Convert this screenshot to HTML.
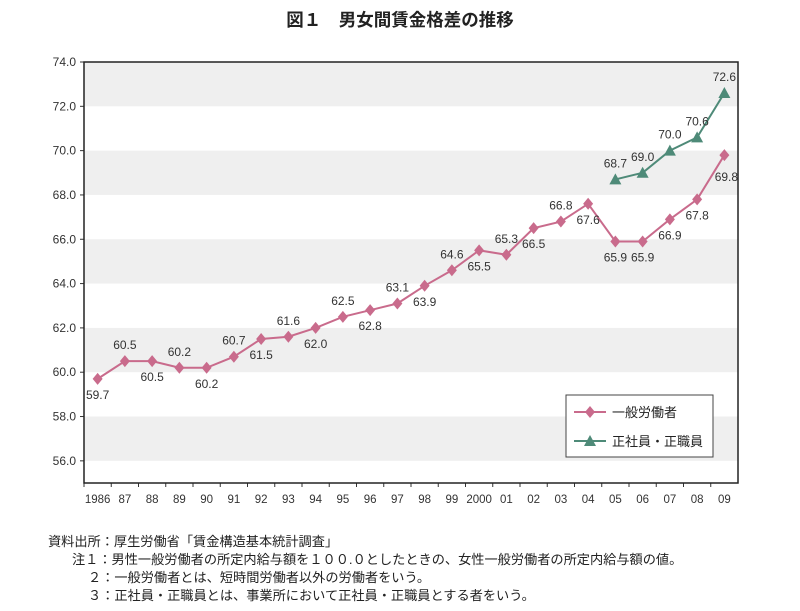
<!DOCTYPE html>
<html><head><meta charset="utf-8"><style>
body{margin:0;background:#fff;width:800px;height:611px;overflow:hidden;font-family:"Liberation Sans","Noto Sans CJK JP",sans-serif}
.note{position:absolute;font-size:13.2px;color:#222;white-space:nowrap}
</style></head><body>
<div style="position:absolute;left:0;width:800px;top:7px;text-align:center;font-size:17.5px;font-weight:bold;color:#222">図１　男女間賃金格差の推移</div>
<svg id="c" width="800" height="611" style="position:absolute;left:0;top:0"></svg>
<div class="note" style="left:48px;top:531px">資料出所：厚生労働省「賃金構造基本統計調査」</div>
<div class="note" style="left:72px;top:549px">注１：男性一般労働者の所定内給与額を１００.０としたときの、女性一般労働者の所定内給与額の値。</div>
<div class="note" style="left:88px;top:567px">２：一般労働者とは、短時間労働者以外の労働者をいう。</div>
<div class="note" style="left:88px;top:585px">３：正社員・正職員とは、事業所において正社員・正職員とする者をいう。</div>
<script>
const categories=["1986","87","88","89","90","91","92","93","94","95","96","97","98","99","2000","01","02","03","04","05","06","07","08","09"];
const generalValues=[59.7,60.5,60.5,60.2,60.2,60.7,61.5,61.6,62.0,62.5,62.8,63.1,63.9,64.6,65.5,65.3,66.5,66.8,67.6,65.9,65.9,66.9,67.8,69.8];
const generalLabelPos=["b","a","b","a","b","a","b","a","b","a","b","a","b","a","b","a","b","a","b","b","b","b","b","r"];
const regularStart=19;
const regularValues=[68.7,69.0,70.0,70.6,72.6];
const yTicks=[56,58,60,62,64,66,68,70,72,74];
const svg=document.getElementById('c');const NS='http://www.w3.org/2000/svg';
const L=84,R=738,T=62,yMin=55,yMax=74,B=483;
const step=(R-L)/categories.length;
const x=i=>L+step*(i+0.5);
const y=v=>B-(v-yMin)/(yMax-yMin)*(B-T);
function el(t,a,txt){const e=document.createElementNS(NS,t);for(const k in a)e.setAttribute(k,a[k]);if(txt!=null)e.textContent=txt;svg.appendChild(e);return e;}
for(let v=56;v<74;v+=4){const r=el('rect',{x:L,y:y(v+2),width:R-L,height:y(v)-y(v+2),fill:'#efefef'});

}
yTicks.forEach(v=>{const l=el('line',{x1:L-4,x2:L,y1:y(v),y2:y(v),stroke:'#333'});


const t=el('text',{x:L-8,y:y(v)+4,'text-anchor':'end','font-size':12,fill:'#333'},v.toFixed(1));

});
categories.forEach((c,i)=>{const l=el('line',{x1:L+step*i,x2:L+step*i,y1:B,y2:B+4,stroke:'#333'});


const t=el('text',{x:x(i),y:B+20,'text-anchor':'middle','font-size':11.5,fill:'#333'},c);

});
const f=el('rect',{x:L,y:T,width:R-L,height:B-T,fill:'none',stroke:'#222','stroke-width':1.5});


const pc='#c96b8c',gc='#4e8a78';
const gl=el('polyline',{points:generalValues.map((v,i)=>x(i)+','+y(v)).join(' '),fill:'none',stroke:pc,'stroke-width':2});


generalValues.forEach((v,i)=>{const cx=x(i),cy=y(v);
const d=el('polygon',{points:`${cx},${cy-6} ${cx+5},${cy} ${cx},${cy+6} ${cx-5},${cy}`,fill:pc});


const p=generalLabelPos[i];let tx=cx,ty=p==='a'?cy-12:cy+20;if(p==='r'){tx=cx+2;ty=cy+26;}
const t=el('text',{x:tx,y:ty,'text-anchor':'middle','font-size':12,fill:'#333'},v.toFixed(1));

});
const rl=el('polyline',{points:regularValues.map((v,i)=>x(i+regularStart)+','+y(v)).join(' '),fill:'none',stroke:gc,'stroke-width':2});


regularValues.forEach((v,i)=>{const cx=x(i+regularStart),cy=y(v);
const d=el('polygon',{points:`${cx},${cy-6} ${cx+6},${cy+5} ${cx-6},${cy+5}`,fill:gc});


const t=el('text',{x:cx,y:cy-12,'text-anchor':'middle','font-size':12,fill:'#333'},v.toFixed(1));

});
const lg=el('rect',{x:566,y:395,width:147,height:62,fill:'#fff',stroke:'#444'});


[[pc,'一般労働者',412,'d'],[gc,'正社員・正職員',441,'t']].forEach(([c,lab,ly,s])=>{
const l=el('line',{x1:574,x2:606,y1:ly,y2:ly,stroke:c,'stroke-width':2});


const m=el('polygon',{points:s==='d'?`590,${ly-6} 595,${ly} 590,${ly+6} 585,${ly}`:`590,${ly-6} 596,${ly+5} 584,${ly+5}`,fill:c});


const t=el('text',{x:612,y:ly+5,'font-size':13,fill:'#222'},lab);

});
</script>
</body></html>
